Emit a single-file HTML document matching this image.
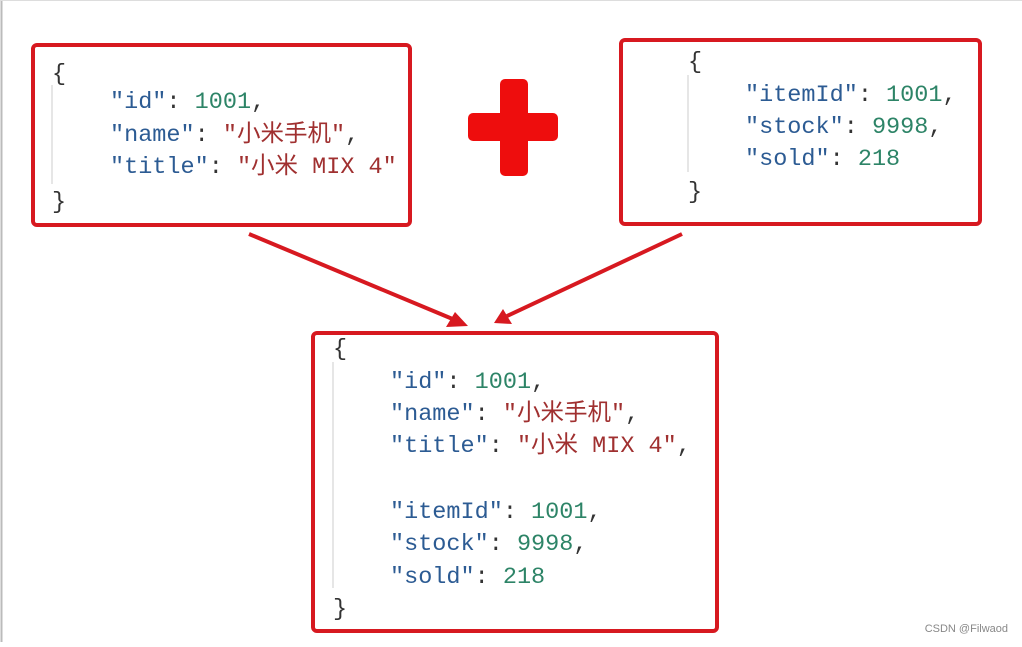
<!DOCTYPE html>
<html><head><meta charset="utf-8"><style>
html,body{margin:0;padding:0;background:#fff;}
svg text{font-family:"Liberation Mono","Noto Sans CJK SC",monospace;font-size:23.5px;}
.k{fill:#2c5b93}.n{fill:#2d8467}.s{fill:#a03030}.p{fill:#333}
</style></head><body>
<svg width="1022" height="642" xmlns="http://www.w3.org/2000/svg">
<rect x="0" y="0" width="1022" height="642" fill="#fff"/>
<line x1="1.5" y1="0" x2="1.5" y2="642" stroke="#bbb" stroke-width="2"/>
<line x1="0" y1="0.5" x2="1022" y2="0.5" stroke="#ddd" stroke-width="1"/>
<g fill="none" stroke="#d71920" stroke-width="4">
<rect x="33" y="45" width="377" height="180" rx="4"/>
<rect x="621" y="40" width="359" height="184" rx="4"/>
<rect x="313" y="333" width="404" height="298" rx="4"/>
</g>
<g stroke="#ddd" stroke-width="1.5">
<line x1="52" y1="85" x2="52" y2="184"/>
<line x1="688" y1="75" x2="688" y2="172"/>
<line x1="333" y1="362" x2="333" y2="588"/>
</g>
<g fill="#ee0d0d">
<rect x="500" y="79" width="28" height="97" rx="5"/>
<rect x="468" y="113" width="90" height="28" rx="5"/>
</g>
<g stroke="#d71920" stroke-width="4" fill="#d71920">
<line x1="249" y1="234" x2="455" y2="320"/>
<line x1="682" y1="234" x2="507" y2="316"/>
</g>
<polygon points="468,326 446,327 455,312" fill="#d71920"/>
<polygon points="494,323 503,309 512,324" fill="#d71920"/>
<g>
<text x="52" y="80" class="p">{</text>
<text x="110" y="108"><tspan class="k">"id"</tspan><tspan class="p">: </tspan><tspan class="n">1001</tspan><tspan class="p">,</tspan></text>
<text x="110" y="141"><tspan class="k">"name"</tspan><tspan class="p">: </tspan><tspan class="s">"小米手机"</tspan><tspan class="p">,</tspan></text>
<text x="110" y="173"><tspan class="k">"title"</tspan><tspan class="p">: </tspan><tspan class="s">"小米 MIX 4"</tspan></text>
<text x="52" y="208" class="p">}</text>

<text x="688" y="68" class="p">{</text>
<text x="745" y="101"><tspan class="k">"itemId"</tspan><tspan class="p">: </tspan><tspan class="n">1001</tspan><tspan class="p">,</tspan></text>
<text x="745" y="133"><tspan class="k">"stock"</tspan><tspan class="p">: </tspan><tspan class="n">9998</tspan><tspan class="p">,</tspan></text>
<text x="745" y="165"><tspan class="k">"sold"</tspan><tspan class="p">: </tspan><tspan class="n">218</tspan></text>
<text x="688" y="198" class="p">}</text>

<text x="333" y="355" class="p">{</text>
<text x="390" y="388"><tspan class="k">"id"</tspan><tspan class="p">: </tspan><tspan class="n">1001</tspan><tspan class="p">,</tspan></text>
<text x="390" y="420"><tspan class="k">"name"</tspan><tspan class="p">: </tspan><tspan class="s">"小米手机"</tspan><tspan class="p">,</tspan></text>
<text x="390" y="452"><tspan class="k">"title"</tspan><tspan class="p">: </tspan><tspan class="s">"小米 MIX 4"</tspan><tspan class="p">,</tspan></text>
<text x="390" y="518"><tspan class="k">"itemId"</tspan><tspan class="p">: </tspan><tspan class="n">1001</tspan><tspan class="p">,</tspan></text>
<text x="390" y="550"><tspan class="k">"stock"</tspan><tspan class="p">: </tspan><tspan class="n">9998</tspan><tspan class="p">,</tspan></text>
<text x="390" y="583"><tspan class="k">"sold"</tspan><tspan class="p">: </tspan><tspan class="n">218</tspan></text>
<text x="333" y="615" class="p">}</text>
</g>
<text x="1008" y="632" text-anchor="end" style="font-family:'Liberation Sans',sans-serif;font-size:11px;fill:#888">CSDN @Filwaod</text>
</svg>
</body></html>
